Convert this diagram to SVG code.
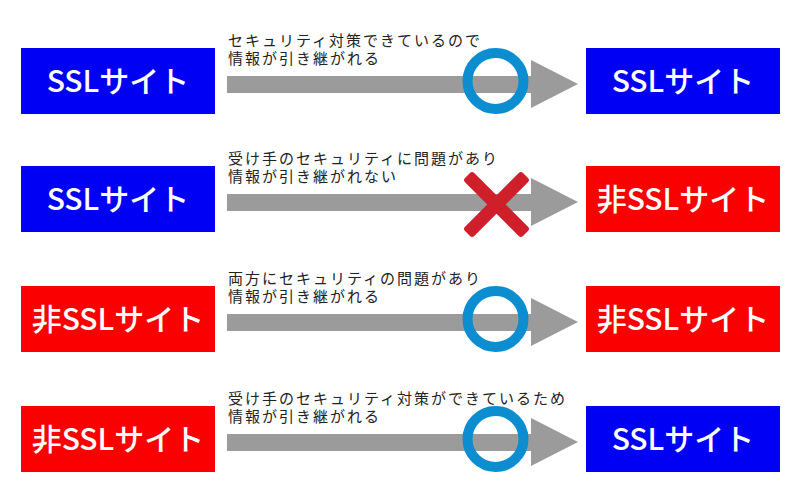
<svg xmlns="http://www.w3.org/2000/svg" xmlns:xlink="http://www.w3.org/1999/xlink" width="800" height="500" viewBox="0 0 800 500">
<style>
.ssl{fill:#0000f5}
.non{fill:#fa0000}
.bt{fill:#fff;font-family:"Noto Sans CJK JP","Noto Sans",sans-serif;font-size:30px;font-weight:500;text-anchor:middle}
.lb{fill:#222;font-family:"Noto Sans CJK JP",sans-serif;font-size:15px;letter-spacing:2px}
.arw{fill:#9b9b9b}
.ok{fill:none;stroke:#0b8dd0;stroke-width:10}
.ng{fill:#cf1f2a}
</style>
<defs>
<path id="arrow" class="arw" d="M227,28 H531 V12 L578,36 L531,60 V45 H227 Z"/>
</defs>
<rect width="800" height="500" fill="#fff"/>
<g id="connectors">
<g id="c1">
<use xlink:href="#arrow" y="48"/>
<text class="lb" x="228" y="45.5">セキュリティ対策できているので</text>
<text class="lb" x="228" y="64">情報が引き継がれる</text>
<circle class="ok" cx="495.5" cy="81" r="28"/>
</g>
<g id="c2">
<use xlink:href="#arrow" y="166"/>
<text class="lb" x="228" y="163.5">受け手のセキュリティに問題があり</text>
<text class="lb" x="228" y="182">情報が引き継がれない</text>
<g transform="translate(496.5,204.5)">
<rect class="ng" x="-41" y="-6.5" width="82" height="13" rx="3" transform="rotate(45)"/>
<rect class="ng" x="-41" y="-6.5" width="82" height="13" rx="3" transform="rotate(-45)"/>
</g>
</g>
<g id="c3">
<use xlink:href="#arrow" y="286"/>
<text class="lb" x="228" y="283.5">両方にセキュリティの問題があり</text>
<text class="lb" x="228" y="302">情報が引き継がれる</text>
<circle class="ok" cx="495.5" cy="319" r="28"/>
</g>
<g id="c4">
<use xlink:href="#arrow" y="406"/>
<text class="lb" x="228" y="403.5">受け手のセキュリティ対策ができているため</text>
<text class="lb" x="228" y="422">情報が引き継がれる</text>
<circle class="ok" cx="495.5" cy="439" r="28"/>
</g>
</g>
<g id="n1l"><rect class="ssl" x="21" y="48" width="194" height="66"/><text class="bt" x="118" y="92">SSLサイト</text></g>
<g id="n1r"><rect class="ssl" x="586" y="48" width="194" height="66"/><text class="bt" x="683" y="92">SSLサイト</text></g>
<g id="n2l"><rect class="ssl" x="21" y="166" width="194" height="66"/><text class="bt" x="118" y="210">SSLサイト</text></g>
<g id="n2r"><rect class="non" x="586" y="166" width="194" height="66"/><text class="bt" x="683" y="210">非SSLサイト</text></g>
<g id="n3l"><rect class="non" x="21" y="286" width="194" height="66"/><text class="bt" x="118" y="330">非SSLサイト</text></g>
<g id="n3r"><rect class="non" x="586" y="286" width="194" height="66"/><text class="bt" x="683" y="330">非SSLサイト</text></g>
<g id="n4l"><rect class="non" x="21" y="406" width="194" height="66"/><text class="bt" x="118" y="450">非SSLサイト</text></g>
<g id="n4r"><rect class="ssl" x="586" y="406" width="194" height="66"/><text class="bt" x="683" y="450">SSLサイト</text></g>
</svg>
